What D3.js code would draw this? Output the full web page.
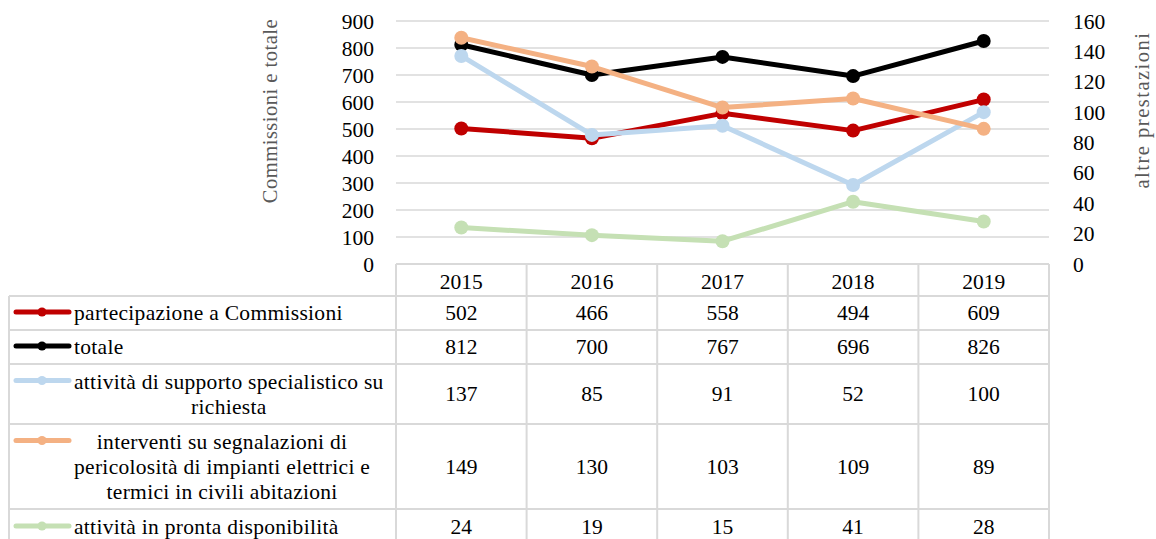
<!DOCTYPE html>
<html>
<head>
<meta charset="utf-8">
<script src="https://cdn.jsdelivr.net/npm/d3@7"></script>
<style>
  body { margin: 0; background: #fff; }
  text { font-family: "Liberation Serif", "Times New Roman", serif; }
</style>
</head>
<body>
<div id="chart"></div>
<script>
// data
var years = ["2015", "2016", "2017", "2018", "2019"];
var commissioni = [502, 466, 558, 494, 609];
var totale = [812, 700, 767, 696, 826];
var supporto = [137, 85, 91, 52, 100];
var interventi = [149, 130, 103, 109, 89];
var disponibilita = [24, 19, 15, 41, 28];
var leftTicks = [0, 100, 200, 300, 400, 500, 600, 700, 800, 900];
var rightTicks = [0, 20, 40, 60, 80, 100, 120, 140, 160];

var series = [
    { lines: ["partecipazione a Commissioni"], values: commissioni, axis: "left", color: "#c00000" },
    { lines: ["totale"], values: totale, axis: "left", color: "#000000" },
    { lines: ["attività di supporto specialistico su", "richiesta"], values: supporto, axis: "right", color: "#bdd7ee" },
    { lines: ["interventi su segnalazioni di", "pericolosità di impianti elettrici e", "termici in civili abitazioni"], values: interventi, axis: "right", color: "#f4b183" },
    { lines: ["attività in pronta disponibilità"], values: disponibilita, axis: "right", color: "#c5e0b4" }
];

var width = 1156, height = 539;
var plot = { left: 396, right: 1049, top: 21, bottom: 264 };
var tableLeft = 9;
var grid = "#d9d9d9";
var fs = 21.5;

var svg = d3.select("#chart").append("svg")
    .attr("width", width)
    .attr("height", height);

// scales
var x = d3.scaleBand().domain(years).range([plot.left, plot.right]);
var yL = d3.scaleLinear().domain([0, 900]).range([plot.bottom, plot.top]);
var yR = d3.scaleLinear().domain([0, 160]).range([plot.bottom, plot.top]);

// gridlines
svg.append("g").selectAll("line")
    .data(leftTicks.slice(1))
    .enter().append("line")
    .attr("x1", plot.left).attr("x2", plot.right)
    .attr("y1", d => yL(d)).attr("y2", d => yL(d))
    .attr("stroke", grid).attr("stroke-width", 1.5);

// left axis
var axL = svg.append("g")
    .attr("transform", "translate(" + (plot.left - 22) + ",0)")
    .call(d3.axisLeft(yL).tickValues(leftTicks).tickSize(0).tickPadding(0));
axL.select(".domain").remove();
axL.selectAll("text").attr("font-size", fs).attr("fill", "#000").attr("dy", "0.33em");

// right axis
var axR = svg.append("g")
    .attr("transform", "translate(" + (plot.right + 24) + ",0)")
    .call(d3.axisRight(yR).tickValues(rightTicks).tickSize(0).tickPadding(0));
axR.select(".domain").remove();
axR.selectAll("text").attr("font-size", fs).attr("fill", "#000").attr("dy", "0.33em");

// axis titles
svg.append("text")
    .attr("transform", "translate(277,111) rotate(-90)")
    .attr("text-anchor", "middle")
    .attr("font-size", 20.5).attr("fill", "#595959")
    .attr("letter-spacing", 0.5)
    .text("Commissioni e totale");
svg.append("text")
    .attr("transform", "translate(1149,110) rotate(-90)")
    .attr("text-anchor", "middle")
    .attr("font-size", 20.5).attr("fill", "#595959")
    .attr("letter-spacing", 1.5)
    .text("altre prestazioni");

// lines (primary axis series first, secondary on top, like Excel)
var cx = d => x(d) + x.bandwidth() / 2;
series.forEach(s => {
    var ys = s.axis == "left" ? yL : yR;
    s.pts = years.map((yr, i) => [cx(yr), ys(s.values[i])]);
    var g = svg.append("g");
    g.append("path")
        .attr("d", d3.line()(s.pts))
        .attr("fill", "none")
        .attr("stroke", s.color)
        .attr("stroke-width", 5)
        .attr("stroke-linejoin", "round");
    g.selectAll("circle")
        .data(s.pts)
        .enter().append("circle")
        .attr("cx", d => d[0]).attr("cy", d => d[1])
        .attr("r", 7)
        .attr("fill", s.color);
});

// data table
var lineH = 25;
var rowH = [34, 34, 60, 85, 36];
var rowTop = [];
var yy = 296;
rowH.forEach(h => { rowTop.push(yy); yy += h; });
var tableBottom = yy;

var tbl = svg.append("g");
tbl.append("line").attr("x1", plot.left).attr("x2", plot.right).attr("y1", plot.bottom).attr("y2", plot.bottom);
rowTop.forEach(v => {
    tbl.append("line").attr("x1", tableLeft).attr("x2", plot.right).attr("y1", v).attr("y2", v);
});
tbl.append("line").attr("x1", tableLeft).attr("x2", tableLeft).attr("y1", 296).attr("y2", tableBottom);
years.forEach(yr => {
    tbl.append("line").attr("x1", x(yr)).attr("x2", x(yr)).attr("y1", plot.bottom).attr("y2", tableBottom);
});
tbl.append("line").attr("x1", plot.right).attr("x2", plot.right).attr("y1", plot.bottom).attr("y2", tableBottom);
tbl.selectAll("line").attr("stroke", grid).attr("stroke-width", 2);

// header years
svg.append("g").selectAll("text")
    .data(years)
    .enter().append("text")
    .attr("x", d => cx(d)).attr("y", 281)
    .attr("dy", "0.35em")
    .attr("text-anchor", "middle")
    .attr("font-size", fs)
    .text(d => d);

// rows
series.forEach((s, r) => {
    var top = rowTop[r], h = rowH[r];
    var n = s.lines.length;
    var firstY = top + h / 2 - (n - 1) * lineH / 2;
    var g = svg.append("g");
    // legend key
    g.append("line")
        .attr("x1", 16).attr("x2", 69)
        .attr("y1", firstY - 1).attr("y2", firstY - 1)
        .attr("stroke", s.color).attr("stroke-width", 5)
        .attr("stroke-linecap", "round");
    g.append("circle")
        .attr("cx", 42).attr("cy", firstY - 1).attr("r", 4.5)
        .attr("fill", s.color);
    // label text
    var txt = g.selectAll("text.lbl")
        .data(s.lines)
        .enter().append("text")
        .attr("class", "lbl")
        .attr("y", (d, i) => firstY + i * lineH)
        .attr("dy", "0.33em")
        .attr("font-size", fs)
        .attr("letter-spacing", 0.3)
        .text(d => d);
    var maxW = 0;
    txt.each(function () { maxW = Math.max(maxW, this.getComputedTextLength()); });
    if (n > 1) {
        txt.attr("x", 74 + maxW / 2).attr("text-anchor", "middle");
    } else {
        txt.attr("x", 74);
    }
    // values
    g.selectAll("text.val")
        .data(s.values)
        .enter().append("text")
        .attr("class", "val")
        .attr("x", (d, i) => cx(years[i]))
        .attr("y", top + h / 2)
        .attr("dy", "0.33em")
        .attr("text-anchor", "middle")
        .attr("font-size", fs)
        .text(d => d);
});
</script>
</body>
</html>
